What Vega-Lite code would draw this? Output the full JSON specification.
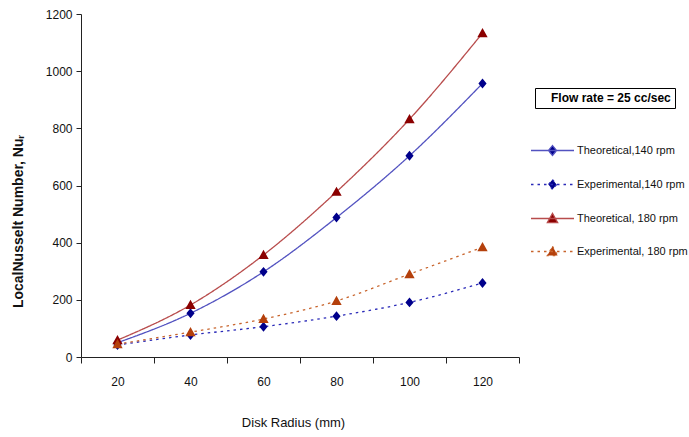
{
  "$schema": "https://vega.github.io/schema/vega-lite/v6.json",
  "width": 438,
  "height": 343,
  "autosize": {"type": "none"},
  "padding": {"left": 81, "top": 14, "right": 170, "bottom": 80},
  "background": "white",
  "config": {
    "view": {"stroke": null},
    "font": "Liberation Sans",
    "axis": {"grid": false, "domainColor": "#222", "tickColor": "#222", "labelColor": "#111", "titleColor": "#111", "labelFont": "Liberation Sans", "titleFont": "Liberation Sans", "labelFontSize": 12, "domainWidth": 1, "tickWidth": 1}
  },
  "data": {
    "values": [
      {"r": 20, "series": "Theoretical,140 rpm", "nu": 50, "flow": "Flow rate = 25 cc/sec"},
      {"r": 40, "series": "Theoretical,140 rpm", "nu": 153, "flow": "Flow rate = 25 cc/sec"},
      {"r": 60, "series": "Theoretical,140 rpm", "nu": 298, "flow": "Flow rate = 25 cc/sec"},
      {"r": 80, "series": "Theoretical,140 rpm", "nu": 488, "flow": "Flow rate = 25 cc/sec"},
      {"r": 100, "series": "Theoretical,140 rpm", "nu": 704, "flow": "Flow rate = 25 cc/sec"},
      {"r": 120, "series": "Theoretical,140 rpm", "nu": 957, "flow": "Flow rate = 25 cc/sec"},
      {"r": 20, "series": "Experimental,140 rpm", "nu": 42, "flow": "Flow rate = 25 cc/sec"},
      {"r": 40, "series": "Experimental,140 rpm", "nu": 77, "flow": "Flow rate = 25 cc/sec"},
      {"r": 60, "series": "Experimental,140 rpm", "nu": 106, "flow": "Flow rate = 25 cc/sec"},
      {"r": 80, "series": "Experimental,140 rpm", "nu": 143, "flow": "Flow rate = 25 cc/sec"},
      {"r": 100, "series": "Experimental,140 rpm", "nu": 191, "flow": "Flow rate = 25 cc/sec"},
      {"r": 120, "series": "Experimental,140 rpm", "nu": 259, "flow": "Flow rate = 25 cc/sec"},
      {"r": 20, "series": "Theoretical, 180 rpm", "nu": 59, "flow": "Flow rate = 25 cc/sec"},
      {"r": 40, "series": "Theoretical, 180 rpm", "nu": 182, "flow": "Flow rate = 25 cc/sec"},
      {"r": 60, "series": "Theoretical, 180 rpm", "nu": 357, "flow": "Flow rate = 25 cc/sec"},
      {"r": 80, "series": "Theoretical, 180 rpm", "nu": 578, "flow": "Flow rate = 25 cc/sec"},
      {"r": 100, "series": "Theoretical, 180 rpm", "nu": 832, "flow": "Flow rate = 25 cc/sec"},
      {"r": 120, "series": "Theoretical, 180 rpm", "nu": 1133, "flow": "Flow rate = 25 cc/sec"},
      {"r": 20, "series": "Experimental, 180 rpm", "nu": 45, "flow": "Flow rate = 25 cc/sec"},
      {"r": 40, "series": "Experimental, 180 rpm", "nu": 87, "flow": "Flow rate = 25 cc/sec"},
      {"r": 60, "series": "Experimental, 180 rpm", "nu": 133, "flow": "Flow rate = 25 cc/sec"},
      {"r": 80, "series": "Experimental, 180 rpm", "nu": 196, "flow": "Flow rate = 25 cc/sec"},
      {"r": 100, "series": "Experimental, 180 rpm", "nu": 290, "flow": "Flow rate = 25 cc/sec"},
      {"r": 120, "series": "Experimental, 180 rpm", "nu": 384, "flow": "Flow rate = 25 cc/sec"}
    ]
  },
  "encoding": {
    "x": {
      "field": "r", "type": "ordinal",
      "scale": {"paddingInner": 0, "paddingOuter": 0},
      "axis": {"title": "Disk Radius (mm)", "labelAngle": 0, "tickBand": "extent", "tickSize": 6, "labelPadding": 13, "titleFontSize": 13, "titleFontWeight": "normal", "titleX": 212, "titleY": 65, "titleBaseline": "middle"}
    },
    "y": {
      "field": "nu", "type": "quantitative",
      "scale": {"domain": [0, 1200], "nice": false},
      "axis": {"title": "LocalNusselt Number, Nuᵣ", "format": "d", "values": [0, 200, 400, 600, 800, 1000, 1200], "tickSize": 5, "labelPadding": 4, "titleFontSize": 14, "titleFontWeight": "bold", "titleX": -63, "titleY": 207, "titleBaseline": "middle", "titleAlign": "center"}
    }
  },
  "layer": [
    {
      "mark": {"type": "line", "interpolate": "monotone", "strokeWidth": 1.3},
      "encoding": {
        "stroke": {
          "field": "series", "type": "nominal",
          "scale": {"domain": ["Theoretical,140 rpm", "Experimental,140 rpm", "Theoretical, 180 rpm", "Experimental, 180 rpm"], "range": ["#5252c0", "#2a2ab8", "#b84c4c", "#c8642c"]},
          "legend": {"orient": "none", "legendX": 449, "legendY": 114, "title": null, "padding": 0, "symbolSize": 1849, "symbolStrokeWidth": 1.3, "rowPadding": 3, "labelOffset": 2, "labelFontSize": 11, "labelFont": "Liberation Sans", "labelColor": "#111"}
        },
        "strokeDash": {
          "field": "series", "type": "nominal",
          "scale": {"domain": ["Theoretical,140 rpm", "Experimental,140 rpm", "Theoretical, 180 rpm", "Experimental, 180 rpm"], "range": [[1, 0], [2.5, 4], [1, 0], [2.5, 4]]},
          "legend": {"orient": "none", "legendX": 449, "legendY": 114, "title": null, "padding": 0, "symbolSize": 1849, "symbolStrokeWidth": 1.3, "rowPadding": 3, "labelOffset": 2, "labelFontSize": 11, "labelFont": "Liberation Sans", "labelColor": "#111"}
        },
        "opacity": {
          "field": "flow", "type": "nominal",
          "scale": {"range": [1]},
          "legend": {"orient": "none", "legendX": 454, "legendY": 74, "title": null, "padding": 4, "strokeColor": "#000", "symbolSize": 0, "symbolOpacity": 0, "labelOffset": 0, "labelFontSize": 12, "labelFontWeight": "bold", "labelFont": "Liberation Sans", "labelColor": "#000"}
        }
      }
    },
    {
      "mark": {"type": "point", "filled": true, "opacity": 1, "size": 1849},
      "encoding": {
        "fill": {
          "field": "series", "type": "nominal",
          "scale": {"domain": ["Theoretical,140 rpm", "Experimental,140 rpm", "Theoretical, 180 rpm", "Experimental, 180 rpm"], "range": ["#00008b", "#00008b", "#8b0000", "#b4400c"]},
          "legend": {"orient": "none", "legendX": 449, "legendY": 114, "title": null, "padding": 0, "symbolSize": 1849, "symbolStrokeWidth": 1.3, "rowPadding": 3, "labelOffset": 2, "labelFontSize": 11, "labelFont": "Liberation Sans", "labelColor": "#111"}
        },
        "shape": {
          "field": "series", "type": "nominal",
          "scale": {"domain": ["Theoretical,140 rpm", "Experimental,140 rpm", "Theoretical, 180 rpm", "Experimental, 180 rpm"], "range": ["M-1,0L1,0M0,-0.23L0.19,0L0,0.23L-0.19,0Z", "M-1,0L1,0M0,-0.23L0.19,0L0,0.23L-0.19,0Z", "M-1,0L1,0M0,-0.24L0.24,0.19L-0.24,0.19Z", "M-1,0L1,0M0,-0.24L0.24,0.19L-0.24,0.19Z"]},
          "legend": {"orient": "none", "legendX": 449, "legendY": 114, "title": null, "padding": 0, "symbolSize": 1849, "symbolStrokeWidth": 1.3, "rowPadding": 3, "labelOffset": 2, "labelFontSize": 11, "labelFont": "Liberation Sans", "labelColor": "#111"}
        }
      }
    }
  ]
}
